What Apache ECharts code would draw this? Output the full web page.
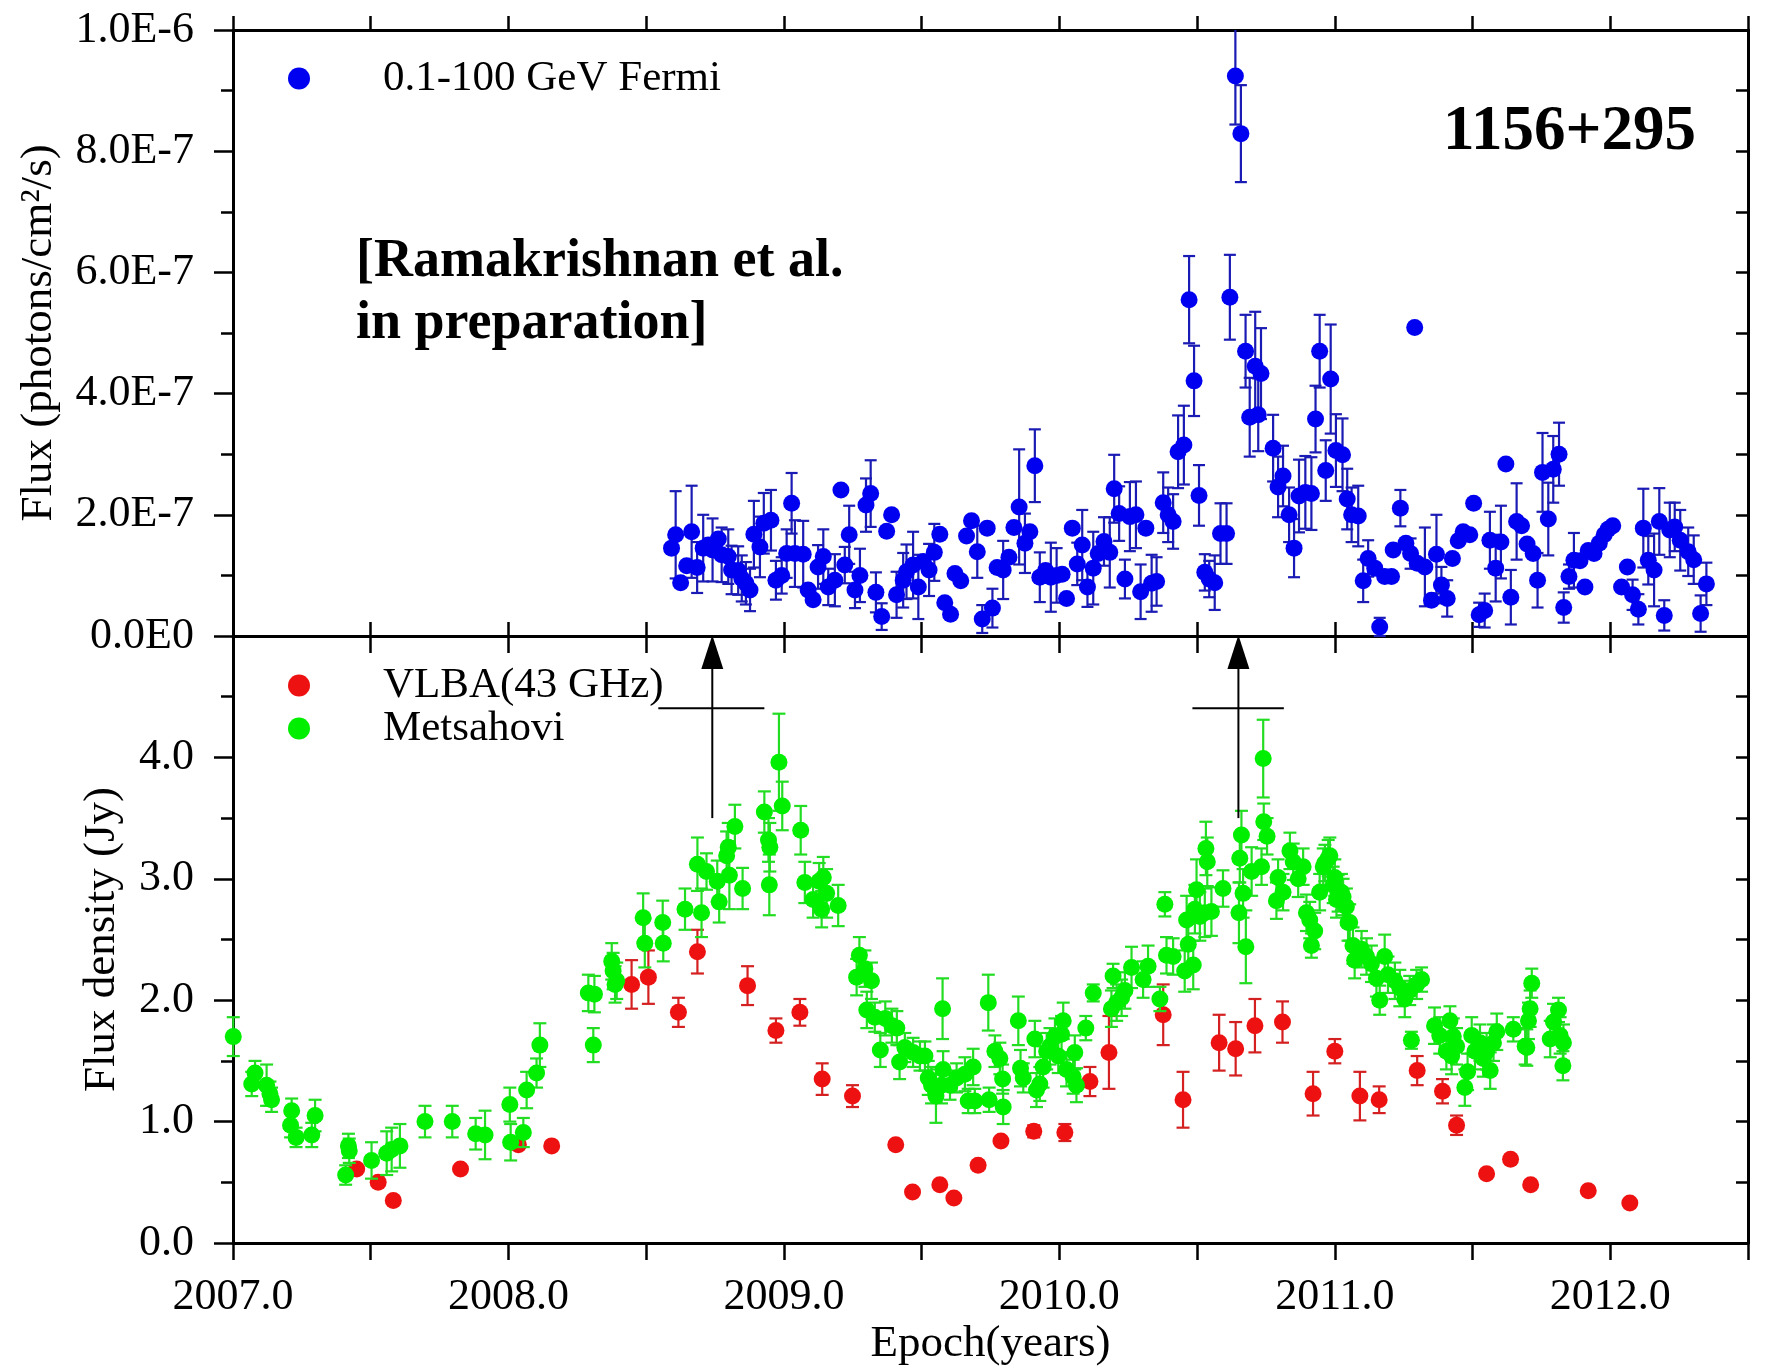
<!DOCTYPE html>
<html>
<head>
<meta charset="utf-8">
<script src="https://cdn.jsdelivr.net/npm/echarts/dist/echarts.min.js"></script>
<style>
  html, body { margin: 0; padding: 0; background: #fff; }
  #chart { width: 1765px; height: 1366px; }
</style>
</head>
<body>
<div id="chart"></div>
<script>
// ---------------- DATA ----------------
// Fermi 0.1-100 GeV: [epoch (yr), flux (1e-7 photons/cm^2/s), error (1e-7)]
const fermiData = [
[2008.592,1.45,0],[2008.607,1.67,0.72],[2008.625,0.88,0],[2008.647,1.16,0],[2008.665,1.72,0.76],
[2008.685,1.13,0.42],[2008.707,1.45,0.55],[2008.725,1.50,0],[2008.741,1.42,0.52],[2008.762,1.60,0],
[2008.774,1.34,0.45],[2008.798,1.31,0.45],[2008.810,1.09,0.4],[2008.834,1.08,0.4],[2008.847,0.95,0.38],
[2008.862,0.87,0.35],[2008.877,0.76,0.35],[2008.891,1.68,0.55],[2008.913,1.47,0.5],[2008.927,1.86,0.5],
[2008.953,1.91,0.5],[2008.971,0.92,0.32],[2008.992,1.00,0.3],[2009.010,1.36,0.4],[2009.028,2.19,0.5],
[2009.040,1.36,0.55],[2009.070,1.35,0.55],[2009.088,0.76,0],[2009.106,0.60,0],[2009.124,1.14,0.36],
[2009.143,1.31,0.45],[2009.161,0.81,0.3],[2009.185,0.92,0.43],[2009.207,2.41,0],[2009.221,1.17,0.3],
[2009.237,1.67,0.48],[2009.258,0.76,0.3],[2009.276,1.00,0.44],[2009.298,2.16,0.44],[2009.315,2.35,0.55],
[2009.334,0.72,0.33],[2009.355,0.32,0.22],[2009.373,1.73,0],[2009.391,2.00,0],[2009.409,0.68,0.38],
[2009.433,0.92,0.45],[2009.445,1.06,0.45],[2009.469,1.17,0.55],[2009.488,0.81,0.53],[2009.506,1.23,0],
[2009.527,1.09,0.43],[2009.546,1.38,0.47],[2009.566,1.68,0],[2009.584,0.55,0],[2009.605,0.36,0],
[2009.621,1.03,0],[2009.642,0.91,0],[2009.663,1.65,0],[2009.681,1.90,0],[2009.702,1.39,0.43],
[2009.720,0.28,0.23],[2009.738,1.78,0],[2009.757,0.46,0.32],[2009.774,1.13,0],[2009.796,1.09,0.48],
[2009.817,1.30,0],[2009.835,1.79,0],[2009.854,2.13,0.95],[2009.875,1.53,0.49],[2009.893,1.72,0],
[2009.911,2.81,0.6],[2009.929,0.97,0.41],[2009.950,1.08,0],[2009.969,0.97,0.57],[2009.990,1.00,0.45],
[2010.010,1.02,0],[2010.026,0.62,0],[2010.047,1.78,0],[2010.065,1.19,0.35],[2010.083,1.50,0.58],
[2010.102,0.81,0.33],[2010.123,1.12,0.6],[2010.141,1.36,0],[2010.162,1.56,0.4],[2010.183,1.38,0.58],
[2010.199,2.43,0.56],[2010.217,2.02,0.45],[2010.238,0.94,0.32],[2010.256,1.97,0.57],[2010.278,2.00,0.55],
[2010.295,0.73,0.45],[2010.314,1.78,0],[2010.335,0.87,0.47],[2010.353,0.90,0.4],[2010.377,2.20,0.5],
[2010.395,2.00,0.45],[2010.413,1.89,0.45],[2010.431,3.04,0.6],[2010.452,3.15,0.65],[2010.471,5.55,0.72],
[2010.489,4.21,0.58],[2010.507,2.32,0.5],[2010.528,1.05,0.3],[2010.544,0.94,0.3],[2010.564,0.88,0.45],
[2010.585,1.69,0.5],[2010.607,1.69,0.5],[2010.619,5.59,0.7],[2010.639,9.24,0.8],[2010.659,8.29,0.8],
[2010.676,4.70,0.6],[2010.691,3.61,0.65],[2010.711,4.45,0.9],[2010.722,3.65,0.6],[2010.732,4.33,0.75],
[2010.776,3.10,0.55],[2010.794,2.46,0.5],[2010.812,2.64,0.5],[2010.834,2.00,0.45],[2010.852,1.45,0.48],
[2010.870,2.31,0.6],[2010.893,2.37,0.6],[2010.915,2.35,0.6],[2010.930,3.58,0.55],[2010.945,4.70,0.6],
[2010.967,2.73,0.5],[2010.985,4.24,0.9],[2011.004,3.06,0.6],[2011.028,2.99,0.6],[2011.045,2.26,0.5],
[2011.061,2.00,0.45],[2011.085,1.98,0.5],[2011.103,0.91,0.35],[2011.121,1.28,0.3],[2011.145,1.12,0],
[2011.163,0.15,0.15],[2011.181,0.98,0],[2011.206,0.98,0],[2011.212,1.42,0],[2011.238,2.11,0.3],
[2011.258,1.53,0],[2011.275,1.36,0.25],[2011.290,5.09,0],[2011.299,1.20,0],[2011.327,1.14,0.65],
[2011.351,0.59,0],[2011.369,1.35,0.65],[2011.387,0.84,0.3],[2011.408,0.62,0.3],[2011.427,1.28,0],
[2011.448,1.57,0],[2011.466,1.72,0],[2011.490,1.67,0],[2011.504,2.19,0],[2011.524,0.35,0.2],
[2011.544,0.42,0.28],[2011.563,1.58,0.47],[2011.584,1.12,0.55],[2011.603,1.55,0.6],[2011.621,2.84,0],
[2011.639,0.64,0.45],[2011.660,1.89,0.63],[2011.678,1.82,0],[2011.698,1.52,0],[2011.720,1.36,0],
[2011.736,0.92,0.45],[2011.754,2.70,0.65],[2011.775,1.93,0.6],[2011.793,2.75,0.55],[2011.814,3.00,0.52],
[2011.831,0.47,0.25],[2011.850,0.98,0.2],[2011.868,1.25,0.45],[2011.890,1.24,0],[2011.908,0.81,0],
[2011.920,1.41,0],[2011.941,1.36,0],[2011.960,1.53,0],[2011.978,1.67,0],[2011.992,1.76,0],
[2012.009,1.82,0],[2012.041,0.81,0],[2012.062,1.14,0],[2012.081,0.68,0.25],[2012.102,0.44,0.25],
[2012.120,1.78,0.65],[2012.138,1.25,0.4],[2012.159,1.09,0.6],[2012.178,1.89,0.55],[2012.196,0.34,0.25],
[2012.216,1.75,0.45],[2012.234,1.80,0.4],[2012.254,1.58,0.5],[2012.283,1.39,0.4],[2012.303,1.26,0.4],
[2012.328,0.37,0.3],[2012.349,0.86,0.35]
];

// VLBA 43 GHz core: [epoch, flux density (Jy), error]
const vlbaData = [
[2007.449,0.61,0],[2007.527,0.50,0],[2007.582,0.35,0],[2007.826,0.61,0],[2008.036,0.81,0],
[2008.157,0.80,0],[2008.447,2.13,0.2],[2008.508,2.19,0.22],[2008.617,1.90,0.12],[2008.686,2.40,0.18],
[2008.868,2.12,0.16],[2008.971,1.75,0.1],[2009.058,1.90,0.11],[2009.139,1.35,0.13],[2009.249,1.21,0.09],
[2009.406,0.81,0],[2009.467,0.42,0],[2009.566,0.48,0],[2009.617,0.37,0],[2009.705,0.64,0],
[2009.788,0.84,0],[2009.907,0.92,0.05],[2010.020,0.91,0.07],[2010.111,1.33,0.12],[2010.180,1.57,0.3],
[2010.377,1.88,0.25],[2010.449,1.18,0.23],[2010.580,1.65,0.23],[2010.640,1.60,0.22],[2010.710,1.79,0.22],
[2010.810,1.82,0.17],[2010.921,1.23,0.18],[2011.000,1.58,0.1],[2011.091,1.21,0.2],[2011.161,1.18,0.11],
[2011.299,1.42,0.12],[2011.391,1.25,0.1],[2011.442,0.97,0.08],[2011.551,0.57,0],[2011.638,0.69,0],
[2011.711,0.48,0],[2011.920,0.43,0],[2012.071,0.33,0]
];

// Metsahovi 37 GHz: [epoch, flux density (Jy), error]
const metsData = [
[2007.001,1.70,0.16],[2007.068,1.31,0.1],[2007.080,1.40,0.1],[2007.122,1.30,0.17],[2007.134,1.23,0.1],
[2007.140,1.18,0.1],[2007.209,0.97,0.1],[2007.213,1.09,0.1],[2007.229,0.87,0.08],[2007.286,0.89,0.1],
[2007.298,1.05,0.13],[2007.409,0.56,0.08],[2007.419,0.80,0.1],[2007.422,0.76,0.1],[2007.503,0.68,0.15],
[2007.558,0.74,0.18],[2007.576,0.77,0.18],[2007.606,0.80,0.18],[2007.697,1.00,0.13],[2007.796,1.00,0.13],
[2007.881,0.90,0.13],[2007.915,0.89,0.2],[2008.005,1.14,0.14],[2008.008,0.83,0.15],[2008.054,0.91,0.12],
[2008.066,1.26,0.15],[2008.102,1.40,0.12],[2008.114,1.63,0.18],[2008.290,2.06,0.15],[2008.308,1.63,0.14],
[2008.312,2.05,0.15],[2008.375,2.32,0.15],[2008.380,2.24,0.15],[2008.387,2.13,0.15],[2008.393,2.16,0.15],
[2008.489,2.68,0.2],[2008.495,2.47,0.2],[2008.560,2.64,0.18],[2008.562,2.47,0.15],[2008.641,2.75,0.17],
[2008.686,3.12,0.22],[2008.701,2.72,0.2],[2008.719,3.06,0.15],[2008.758,2.98,0.17],[2008.765,2.81,0.17],
[2008.792,3.19,0.2],[2008.798,3.26,0.2],[2008.802,3.03,0.28],[2008.822,3.43,0.18],[2008.850,2.92,0.17],
[2008.929,3.55,0.17],[2008.944,3.32,0.18],[2008.949,3.26,0.2],[2008.947,2.95,0.25],[2008.982,3.96,0.4],
[2008.994,3.60,0.2],[2009.061,3.40,0.2],[2009.076,2.97,0.17],[2009.106,2.83,0.15],[2009.128,2.98,0.15],
[2009.137,2.75,0.15],[2009.143,3.01,0.17],[2009.155,2.88,0.2],[2009.197,2.78,0.17],[2009.264,2.19,0.15],
[2009.274,2.37,0.15],[2009.294,2.26,0.15],[2009.301,1.92,0.15],[2009.318,2.16,0.15],[2009.330,1.86,0.12],
[2009.350,1.59,0.14],[2009.368,1.85,0.14],[2009.392,1.79,0.14],[2009.410,1.77,0.14],[2009.420,1.49,0.14],
[2009.439,1.61,0.12],[2009.469,1.57,0.12],[2009.494,1.54,0.12],[2009.512,1.54,0.12],[2009.524,1.36,0.14],
[2009.536,1.30,0.15],[2009.552,1.21,0.22],[2009.572,1.30,0.15],[2009.576,1.93,0.25],[2009.578,1.43,0.15],
[2009.603,1.30,0.12],[2009.627,1.36,0.12],[2009.657,1.39,0.14],[2009.669,1.17,0.1],[2009.687,1.45,0.15],
[2009.693,1.17,0.1],[2009.742,1.98,0.23],[2009.745,1.18,0.1],[2009.766,1.58,0.13],[2009.784,1.52,0.13],
[2009.794,1.35,0.12],[2009.796,1.12,0.14],[2009.851,1.83,0.2],[2009.859,1.44,0.15],[2009.869,1.36,0.12],
[2009.911,1.68,0.15],[2009.917,1.26,0.14],[2009.929,1.31,0.14],[2009.941,1.45,0.17],[2009.954,1.58,0.15],
[2009.966,1.62,0.15],[2009.984,1.70,0.15],[2009.996,1.54,0.14],[2010.008,1.72,0.15],[2010.014,1.83,0.15],
[2010.026,1.43,0.14],[2010.050,1.37,0.14],[2010.056,1.57,0.14],[2010.062,1.30,0.14],[2010.096,1.77,0.1],
[2010.123,2.06,0.07],[2010.189,1.93,0.15],[2010.195,2.20,0.1],[2010.208,1.98,0.15],[2010.226,2.02,0.15],
[2010.238,2.08,0.15],[2010.262,2.27,0.17],[2010.304,2.17,0.15],[2010.322,2.28,0.17],[2010.365,2.01,0.1],
[2010.383,2.79,0.1],[2010.389,2.37,0.15],[2010.413,2.36,0.15],[2010.455,2.24,0.17],[2010.462,2.66,0.2],
[2010.468,2.46,0.17],[2010.486,2.29,0.2],[2010.492,2.75,0.2],[2010.498,2.91,0.25],[2010.510,2.69,0.2],
[2010.528,2.72,0.2],[2010.532,3.25,0.22],[2010.537,3.14,0.2],[2010.552,2.73,0.2],[2010.594,2.92,0.15],
[2010.652,2.72,0.25],[2010.655,3.17,0.2],[2010.661,3.36,0.2],[2010.667,2.88,0.2],[2010.677,2.44,0.3],
[2010.698,3.06,0.2],[2010.734,3.10,0.15],[2010.740,3.99,0.32],[2010.742,3.47,0.15],[2010.754,3.35,0.15],
[2010.788,2.82,0.15],[2010.794,3.01,0.15],[2010.812,2.89,0.15],[2010.837,3.23,0.15],[2010.849,3.14,0.15],
[2010.867,3.00,0.15],[2010.885,3.10,0.15],[2010.897,2.72,0.15],[2010.909,2.66,0.15],[2010.915,2.45,0.1],
[2010.927,2.57,0.15],[2010.945,2.89,0.15],[2010.958,3.10,0.15],[2010.964,3.13,0.15],[2010.976,3.17,0.15],
[2010.982,3.19,0.15],[2010.994,2.95,0.15],[2011.000,3.01,0.15],[2011.006,2.83,0.15],[2011.012,2.88,0.15],
[2011.024,2.89,0.15],[2011.030,2.85,0.15],[2011.042,2.77,0.15],[2011.048,2.64,0.15],[2011.054,2.64,0.15],
[2011.066,2.45,0.15],[2011.072,2.33,0.15],[2011.097,2.42,0.15],[2011.115,2.36,0.15],[2011.133,2.30,0.15],
[2011.151,2.18,0.15],[2011.163,2.00,0.12],[2011.181,2.36,0.18],[2011.193,2.21,0.15],[2011.218,2.16,0.15],
[2011.236,2.10,0.15],[2011.254,2.01,0.15],[2011.272,2.08,0.12],[2011.278,1.67,0.07],[2011.297,2.13,0.12],
[2011.315,2.17,0.1],[2011.362,1.79,0.15],[2011.381,1.71,0.15],[2011.405,1.58,0.15],[2011.418,1.83,0.12],
[2011.424,1.54,0.15],[2011.430,1.70,0.15],[2011.442,1.62,0.15],[2011.472,1.28,0.15],[2011.482,1.41,0.15],
[2011.497,1.71,0.15],[2011.509,1.58,0.15],[2011.527,1.65,0.15],[2011.539,1.52,0.15],[2011.551,1.58,0.15],
[2011.564,1.42,0.15],[2011.576,1.65,0.15],[2011.588,1.74,0.15],[2011.648,1.76,0.1],[2011.691,1.62,0.15],
[2011.697,1.61,0.15],[2011.703,1.83,0.15],[2011.709,1.93,0.15],[2011.715,2.14,0.12],[2011.782,1.68,0.15],
[2011.794,1.82,0.15],[2011.812,1.92,0.1],[2011.818,1.71,0.15],[2011.828,1.46,0.12],[2011.830,1.65,0.15]
];

// Tick labels
const epochLabels = ['2007.0','2008.0','2009.0','2010.0','2011.0','2012.0'];
const fermiTickLabels = ['0.0E0','2.0E-7','4.0E-7','6.0E-7','8.0E-7','1.0E-6'];
const jyTickLabels = ['0.0','1.0','2.0','3.0','4.0',''];

// Flare arrows (epoch of gamma-ray flare, ejection-epoch window, Jy levels: stem base, window bar, tip)
const flareEpochs = [2008.74, 2010.65];
const flareWindowStart = [2008.544, 2010.483];
const flareWindowEnd = [2008.929, 2010.815];
const arrowJy = [3.5, 4.405, 5.0];

// Axis ranges
const epochRange = [2007, 2012.5];
const fermiRange = [0, 10];
const jyRange = [0, 5];

// ---------------- CHART ----------------
const FONT = '"Liberation Serif", "Times New Roman", serif';
const TICK_FS = 44;
const NAME_FS = 45;
const chart = echarts.init(document.getElementById('chart'), null, { renderer: 'canvas' });

function errTable(rows, yMin, yMax) {
  return rows.filter(r => r[2] > 0).map(r => {
    const lo = Math.max(yMin, r[1] - r[2]);
    const hi = Math.min(yMax, r[1] + r[2]);
    return [r[0], lo, hi, (r[1] + r[2] > yMax) ? 1 : 0, (r[1] - r[2] < yMin) ? 1 : 0];
  });
}

function errRender(color, capHalf, lw) {
  return function (params, api) {
    const x = api.value(0);
    const pLo = api.coord([x, api.value(1)]);
    const pHi = api.coord([x, api.value(2)]);
    const st = { stroke: color, lineWidth: lw, fill: null };
    const ch = [{ type: 'line', shape: { x1: pLo[0], y1: pLo[1], x2: pHi[0], y2: pHi[1] }, style: st }];
    if (!api.value(3)) ch.push({ type: 'line', shape: { x1: pHi[0] - capHalf, y1: pHi[1], x2: pHi[0] + capHalf, y2: pHi[1] }, style: st });
    if (!api.value(4)) ch.push({ type: 'line', shape: { x1: pLo[0] - capHalf, y1: pLo[1], x2: pLo[0] + capHalf, y2: pLo[1] }, style: st });
    return { type: 'group', children: ch };
  };
}

const axisLine = { show: true, onZero: false, lineStyle: { color: '#000', width: 3 } };
const tickStyle = { color: '#000', width: 2.5 };

function xAx(grid, pos, inside, len, labels) {
  return {
    type: 'value', gridIndex: grid, position: pos,
    min: epochRange[0], max: epochRange[1], interval: 0.5,
    axisLine: axisLine,
    axisTick: { show: true, inside: inside, length: len, lineStyle: tickStyle },
    splitLine: { show: false },
    axisLabel: labels ? {
      show: true, margin: 32, color: '#000', fontFamily: FONT, fontSize: TICK_FS,
      formatter: v => (Math.abs(v - Math.round(v)) < 1e-6 && Math.round(v) <= 2012) ? epochLabels[Math.round(v) - 2007] : ''
    } : { show: false }
  };
}

const option = {
  animation: false,
  backgroundColor: '#fff',
  grid: [
    { left: 233, right: 17, top: 30, height: 606, outerBoundsMode: 'none', containLabel: false },
    { left: 233, right: 17, top: 636, height: 607, outerBoundsMode: 'none', containLabel: false }
  ],
  xAxis: [
    xAx(0, 'top', false, 14, false),
    xAx(0, 'bottom', true, 14, false),
    xAx(1, 'top', true, 17, false),
    Object.assign(xAx(1, 'bottom', false, 17, true), {
      name: 'Epoch(years)', nameLocation: 'middle', nameGap: 79,
      nameTextStyle: { color: '#000', fontFamily: FONT, fontSize: NAME_FS }
    })
  ],
  yAxis: [
    {
      type: 'value', gridIndex: 0, position: 'left', min: fermiRange[0], max: fermiRange[1], interval: 2,
      axisLine: axisLine,
      axisTick: { show: true, inside: false, length: 19, lineStyle: tickStyle },
      minorTick: { show: true, splitNumber: 2, length: 12, lineStyle: tickStyle },
      splitLine: { show: false }, minorSplitLine: { show: false },
      axisLabel: { margin: 39, color: '#000', fontFamily: FONT, fontSize: TICK_FS, formatter: v => fermiTickLabels[Math.round(v / 2)] },
      name: 'Flux (photons/cm\u00B2/s)', nameLocation: 'middle', nameRotate: 90, nameGap: 171,
      nameTextStyle: { color: '#000', fontFamily: FONT, fontSize: NAME_FS }
    },
    {
      type: 'value', gridIndex: 0, position: 'right', min: fermiRange[0], max: fermiRange[1], interval: 1,
      axisLine: axisLine,
      axisTick: { show: true, inside: true, length: 12, lineStyle: tickStyle },
      splitLine: { show: false }, axisLabel: { show: false }
    },
    {
      type: 'value', gridIndex: 1, position: 'left', min: jyRange[0], max: jyRange[1], interval: 1,
      axisLine: axisLine,
      axisTick: { show: true, inside: false, length: 19, lineStyle: tickStyle },
      minorTick: { show: true, splitNumber: 2, length: 12, lineStyle: tickStyle },
      splitLine: { show: false }, minorSplitLine: { show: false },
      axisLabel: { margin: 39, color: '#000', fontFamily: FONT, fontSize: TICK_FS, formatter: v => jyTickLabels[Math.round(v)] },
      name: 'Flux density (Jy)', nameLocation: 'middle', nameRotate: 90, nameGap: 108,
      nameTextStyle: { color: '#000', fontFamily: FONT, fontSize: NAME_FS }
    },
    {
      type: 'value', gridIndex: 1, position: 'right', min: jyRange[0], max: jyRange[1], interval: 0.5,
      axisLine: axisLine,
      axisTick: { show: true, inside: true, length: 12, lineStyle: tickStyle },
      splitLine: { show: false }, axisLabel: { show: false }
    }
  ],
  legend: [
    {
      data: ['0.1-100 GeV Fermi'], orient: 'vertical', left: 288, top: 57, padding: 0,
      icon: 'circle', itemWidth: 22, itemHeight: 22, itemGap: 0, selectedMode: false,
      textStyle: { color: '#000', fontFamily: FONT, fontSize: 43, lineHeight: 42, padding: [0, 0, 0, 68] }
    },
    {
      data: ['VLBA(43 GHz)', 'Metsahovi'], orient: 'vertical', left: 288, top: 664, padding: 0,
      icon: 'circle', itemWidth: 22, itemHeight: 22, itemGap: 0, selectedMode: false,
      textStyle: { color: '#000', fontFamily: FONT, fontSize: 43, lineHeight: 42, padding: [0, 0, 0, 68] }
    }
  ],
  graphic: [
    {
      type: 'text', left: 356, top: 231, z: 100,
      style: { text: '[Ramakrishnan et al.\nin preparation]', font: 'bold 54px ' + FONT, lineHeight: 62, fill: '#000' }
    },
    {
      type: 'text', left: 1443, top: 101, z: 100,
      style: { text: '1156+295', font: 'bold 63px ' + FONT, fill: '#000' }
    }
  ],
  series: [
    {
      name: 'fermiErr', type: 'custom', xAxisIndex: 0, yAxisIndex: 0, z: 2, silent: true,
      renderItem: errRender('#1a1ab4', 6, 2.2),
      data: errTable(fermiData, fermiRange[0], fermiRange[1]), encode: { x: 0, y: [1, 2] }
    },
    {
      name: '0.1-100 GeV Fermi', type: 'scatter', xAxisIndex: 0, yAxisIndex: 0, z: 3,
      symbol: 'circle', symbolSize: 17, itemStyle: { color: '#0000f0', opacity: 1 },
      emphasis: { disabled: true },
      data: fermiData.map(r => [r[0], r[1]])
    },
    {
      name: 'vlbaErr', type: 'custom', xAxisIndex: 3, yAxisIndex: 2, z: 2, silent: true,
      renderItem: errRender('#d42020', 6.5, 2.2),
      data: errTable(vlbaData, jyRange[0], jyRange[1]), encode: { x: 0, y: [1, 2] }
    },
    {
      name: 'VLBA(43 GHz)', type: 'scatter', xAxisIndex: 3, yAxisIndex: 2, z: 3,
      symbol: 'circle', symbolSize: 17, itemStyle: { color: '#ee1111', opacity: 1 },
      emphasis: { disabled: true },
      data: vlbaData.map(r => [r[0], r[1]])
    },
    {
      name: 'metsErr', type: 'custom', xAxisIndex: 3, yAxisIndex: 2, z: 4, silent: true,
      renderItem: errRender('#22dd22', 6.5, 2.2),
      data: errTable(metsData, jyRange[0], jyRange[1]), encode: { x: 0, y: [1, 2] }
    },
    {
      name: 'Metsahovi', type: 'scatter', xAxisIndex: 3, yAxisIndex: 2, z: 5,
      symbol: 'circle', symbolSize: 17, itemStyle: { color: '#00ee00', opacity: 1 },
      emphasis: { disabled: true },
      data: metsData.map(r => [r[0], r[1]])
    },
    {
      name: 'flareArrows', type: 'custom', xAxisIndex: 3, yAxisIndex: 2, z: 10, silent: true,
      data: flareEpochs.map((e, i) => [e, flareWindowStart[i], flareWindowEnd[i]]),
      encode: { x: 0 },
      renderItem: function (params, api) {
        const x = api.value(0);
        const base = api.coord([x, arrowJy[0]]);
        const tip = api.coord([x, arrowJy[2]]);
        const b1 = api.coord([api.value(1), arrowJy[1]]);
        const b2 = api.coord([api.value(2), arrowJy[1]]);
        const st = { stroke: '#000', lineWidth: 2, fill: null };
        return {
          type: 'group', children: [
            { type: 'line', shape: { x1: base[0], y1: base[1], x2: tip[0], y2: tip[1] + 30 }, style: st },
            { type: 'polygon', shape: { points: [[tip[0], tip[1] - 1], [tip[0] - 11, tip[1] + 33], [tip[0] + 11, tip[1] + 33]] }, style: { fill: '#000', stroke: null } },
            { type: 'line', shape: { x1: b1[0], y1: b1[1], x2: b2[0], y2: b2[1] }, style: st }
          ]
        };
      }
    }
  ]
};

chart.setOption(option);
</script>
</body>
</html>
